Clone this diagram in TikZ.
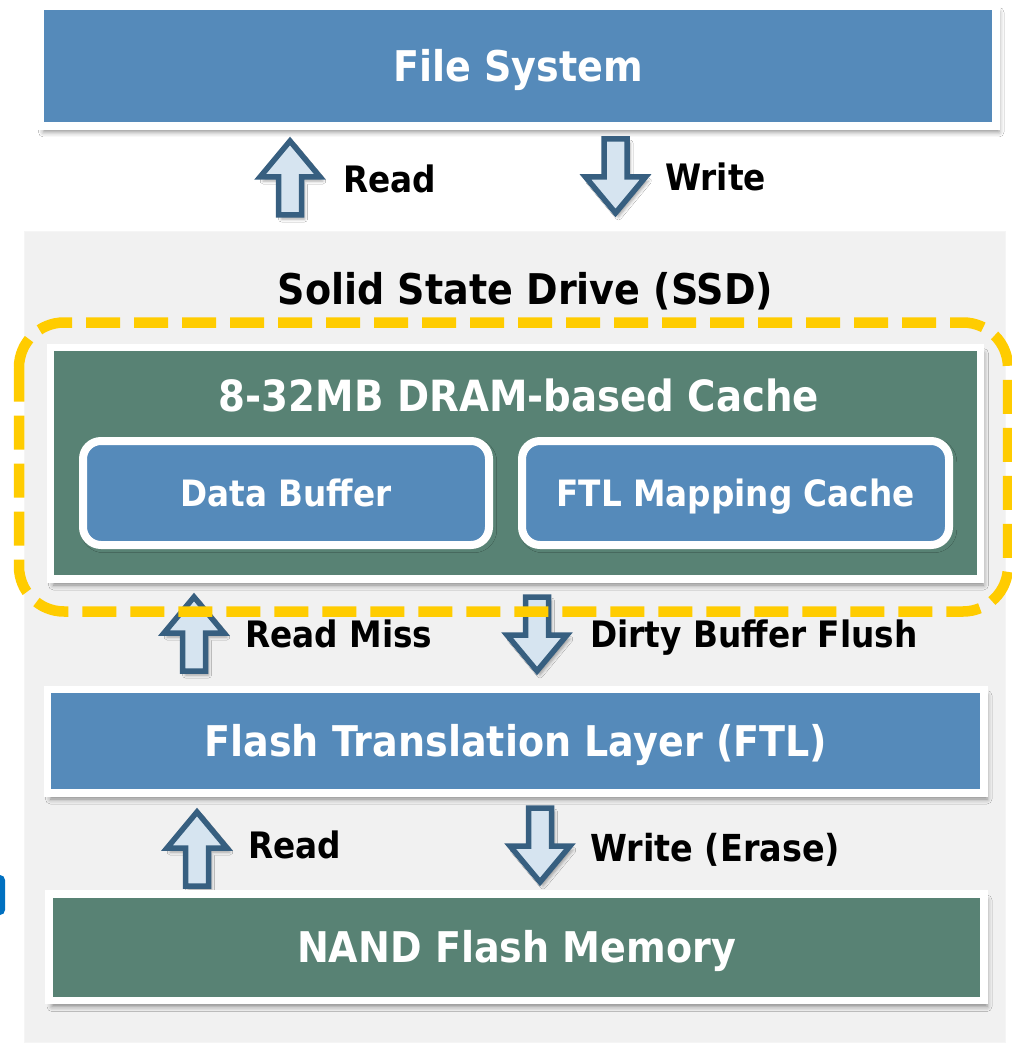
\documentclass[tikz,border=0pt]{standalone}
\usepackage{fontspec}
\setmainfont{DejaVu Sans}[FakeStretch=0.9]
\usetikzlibrary{shadows.blur}
\definecolor{boxblue}{HTML}{558ABA}
\definecolor{boxgreen}{HTML}{588274}
\definecolor{panelgray}{HTML}{F1F1F1}
\definecolor{arrowfill}{HTML}{D6E4F0}
\definecolor{arrowline}{HTML}{375F80}
\definecolor{dashyellow}{HTML}{FFCC00}
\definecolor{fragblue}{HTML}{0070C0}
\tikzset{
  softshadow/.style={blur shadow={shadow xshift=3pt, shadow yshift=-6pt, shadow blur radius=5pt, shadow opacity=45}},
  layer/.style={draw=white, line width=7.5pt, inner sep=0pt, outer sep=0pt, softshadow,
    text=white, font=\bfseries\fontsize{42.3}{46}\selectfont, text height=30.8pt, text depth=0pt},
  subbox/.style={layer, rounded corners=18pt, line width=8pt, fill=boxblue, blur shadow={shadow opacity=0},
    font=\bfseries\fontsize{36.3}{40}\selectfont, text height=26.5pt},
  lbl/.style={anchor=base west, inner sep=0pt, font=\bfseries\fontsize{36.4}{40}\selectfont},
  ttl/.style={anchor=base, inner sep=0pt, font=\bfseries\fontsize{42.3}{46}\selectfont},
  blockarrow/.style={fill=arrowfill, draw=arrowline, line width=5.5pt, line join=miter,
    blur shadow={shadow xshift=3pt, shadow yshift=-4pt, shadow blur radius=3pt, shadow opacity=35}},
  blkarrow/.pic={\path[blockarrow] (0,0) -- (30,36) -- (11.5,36) -- (11.5,74) -- (-11.5,74) -- (-11.5,36) -- (-30,36) -- cycle;},
  yellowdash/.style={draw=dashyellow, line width=10.5pt, dash pattern=on 34pt off 14pt, rounded corners=45pt}
}
\begin{document}
\begin{tikzpicture}[x=1pt, y=-1pt]
\useasboundingbox (0,0) rectangle (1011,1048);
\fill[white] (0,0) rectangle (1011,1048);

% host side
\node[layer, fill=boxblue, minimum width=955.5pt, minimum height=119.5pt] (fs) at (518.25,66.25) {File System};
\pic (hostrd) at (290,141) {blkarrow};
\pic[rotate=180] (hostwr) at (615.5,213) {blkarrow};
\node[lbl] (hostrdl) at (343,193) {Read};
\node[lbl] (hostwrl) at (665,191) {Write};

% drive enclosure
\path[fill=panelgray, draw=black!4, line width=1pt] (24,232) rectangle (1005,1042);
\node[ttl] (ssd) at (525.5,305) {Solid State Drive (SSD)};

% on-board cache
\node[layer, fill=boxgreen, minimum width=930pt, minimum height=231.5pt] (dram) at (515.5,463.25) {};
\node[ttl, text=white, font=\bfseries\fontsize{43}{46}\selectfont] (dramt) at (519,411) {8-32MB DRAM-based Cache};
\node[subbox, minimum width=406pt, minimum height=104pt] (dbuf) at (286,493) {Data Buffer};
\node[subbox, minimum width=427pt, minimum height=104pt] (mapc) at (735.5,493) {FTL Mapping Cache};

% cache <-> FTL traffic
\pic (miss) at (194,597) {blkarrow};
\pic[rotate=180] (flush) at (537,671) {blkarrow};
\node[lbl] (missl) at (245,647) {Read Miss};
\node[lbl] (flushl) at (590,647) {Dirty Buffer Flush};

% cache boundary
\path[yellowdash] (19,322.5) rectangle (1008,611.5);

% FTL and flash
\node[layer, fill=boxblue, minimum width=936.5pt, minimum height=103.5pt] (ftl) at (515.75,741.25) {Flash Translation Layer (FTL)};
\pic (nandrd) at (197,812) {blkarrow};
\pic[rotate=180] (nandwr) at (540,882) {blkarrow};
\node[lbl] (nandrdl) at (248,858) {Read};
\node[lbl, font=\bfseries\fontsize{37.2}{40}\selectfont] (nandwrl) at (590,861) {Write (Erase)};
\node[layer, fill=boxgreen, minimum width=935pt, minimum height=106.5pt] (nand) at (516.5,947.25) {NAND Flash Memory};

% glyph edge at the left border
\fill[fragblue, rounded corners=5pt] (-12,915) -- (-12,875) -- (5,875) -- (5,915) -- cycle;
\end{tikzpicture}
\end{document}
